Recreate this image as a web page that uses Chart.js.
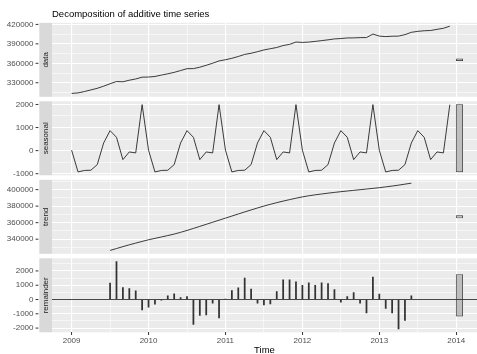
<!DOCTYPE html>
<html>
<head>
<meta charset="utf-8">
<script src="https://cdn.jsdelivr.net/npm/chart.js@4.4.1/dist/chart.umd.min.js"></script>
<style>
  html, body { margin: 0; padding: 0; background: #ffffff; overflow: hidden; }
  #wrap { position: relative; width: 477px; height: 354px; }
  #wrap canvas { position: absolute; left: 0; top: 0; }
</style>
</head>
<body>
<div id="wrap">
  <canvas id="c-data" width="477" height="354"></canvas>
  <canvas id="c-seasonal" width="477" height="354"></canvas>
  <canvas id="c-trend" width="477" height="354"></canvas>
  <canvas id="c-remainder" width="477" height="354"></canvas>
</div>
<script>
// monthly series, Jan 2009 - Dec 2013
const startYear = 2009;
const frequency = 12;

const observed = [
    313500, 314300, 316400, 318900, 321400, 324700, 328400, 331900, 331500, 333900, 335800, 338600,
    338800, 339700, 341800, 343800, 346000, 348800, 351700, 351800, 354000, 356900, 360100, 363700,
    365500, 367700, 370500, 373700, 375500, 377900, 380600, 382500, 384400, 387400, 389200, 392800,
    392200, 392700, 393800, 395000, 396200, 397600, 398200, 399100, 399200, 399600, 399700, 405100,
    402000, 401200, 401800, 402000, 404200, 407800, 409300, 410200, 410600, 412400, 414000, 417300
];

const seasonal = [
    20, -924, -860, -850, -606, 332, 866, 577, -390, -58, -100, 1991,
    20, -924, -860, -850, -606, 332, 866, 577, -390, -58, -100, 1991,
    20, -924, -860, -850, -606, 332, 866, 577, -390, -58, -100, 1991,
    20, -924, -860, -850, -606, 332, 866, 577, -390, -58, -100, 1991,
    20, -924, -860, -850, -606, 332, 866, 577, -390, -58, -100, 1991
];

const trend = [
    null, null, null, null, null, null, 326400, 328700, 331000, 333200, 335300, 337300,
    339300, 341000, 342700, 344400, 346200, 348300, 350600, 353000, 355500, 358000, 360500, 363000,
    365500, 368000, 370500, 373000, 375400, 377800, 380100, 382200, 384200, 386100, 387900, 389600,
    391200, 392500, 393700, 394700, 395700, 396600, 397500, 398300, 399100, 399900, 400700, 401500,
    402300, 403300, 404300, 405400, 406600, 407800, null, null, null, null, null, null
];

const remainder = [
    null, null, null, null, null, null, 1150, 2650, 840, 770, 610, -725,
    -540, -330, -40, 260, 400, 140, 210, -1750, -1120, -1080, -260, -1290,
    20, 630, 820, 1500, 725, -260, -375, -305, 560, 1380, 1380, 1240,
    1000, 1170, 1000, 1170, 1120, 700, -190, 210, 490, -260, -940, 1570,
    375, -630, -940, -2060, -1470, 260, null, null, null, null, null, null
];

const yearLabels = [2009, 2010, 2011, 2012, 2013, 2014];
const halfYearTicks = [2009.5, 2010.5, 2011.5, 2012.5, 2013.5];

const dataMajor = [330000, 360000, 390000, 420000];
const dataMinor = [315000, 345000, 375000, 405000];
const seasonalMajor = [-1000, 0, 1000, 2000];
const seasonalMinor = [-500, 500, 1500];
const trendMajor = [340000, 360000, 380000, 400000];
const trendMinor = [330000, 350000, 370000, 390000, 410000];
const remainderMajor = [-2000, -1000, 0, 1000, 2000];
const remainderMinor = [-1500, -500, 500, 1500, 2500];

const FONT = '"Liberation Sans", Arial, sans-serif';
const xMin = 2008.745;
const xMax = 2014.27;

const time = observed.map((v, i) => startYear + i / frequency);
const toPoints = (values) => values.map((v, i) => ({ x: time[i], y: v }));

function valueRange(values) {
    const v = values.filter(x => x !== null);
    return [Math.min(...v), Math.max(...v)];
}

// range bars: same height in every panel (the smallest range), centred on each panel
const ranges = [observed, seasonal, trend, remainder].map(valueRange);
const barHeight = Math.min(...ranges.map(r => r[1] - r[0]));
const barX = time[time.length - 1] + 1.5 / frequency;
const rangeBars = ranges.map(r => {
    const mid = (r[0] + r[1]) / 2;
    return [mid - barHeight / 2, mid + barHeight / 2];
});

function limits(r, bar) {
    const lo = Math.min(r[0], bar[0]);
    const hi = Math.max(r[1], bar[1]);
    const pad = (hi - lo) * 0.05;
    return [lo - pad, hi + pad];
}

const stripPlugin = {
    id: 'strip',
    beforeDraw(chart) {
        const { ctx, chartArea } = chart;
        ctx.save();
        ctx.fillStyle = '#EBEBEB';
        ctx.fillRect(chartArea.left, chartArea.top, chartArea.right - chartArea.left, chartArea.bottom - chartArea.top);
        ctx.restore();
    },
    afterDraw(chart, args, opts) {
        const { ctx, chartArea } = chart;
        const ys = chart.scales.y;
        ctx.save();
        ctx.fillStyle = '#D9D9D9';
        ctx.fillRect(39.3, chartArea.top, chartArea.left - 39.3, chartArea.bottom - chartArea.top);
        // y tick marks sit left of the strip, as in ggplot
        ctx.strokeStyle = '#333333';
        ctx.lineWidth = 1;
        opts.major.forEach(v => {
            const y = ys.getPixelForValue(v);
            ctx.beginPath();
            ctx.moveTo(35.6, y);
            ctx.lineTo(38.4, y);
            ctx.stroke();
        });
        ctx.translate(45.8, (chartArea.top + chartArea.bottom) / 2);
        ctx.rotate(-Math.PI / 2);
        ctx.fillStyle = '#1A1A1A';
        ctx.font = '8px ' + FONT;
        ctx.textAlign = 'center';
        ctx.textBaseline = 'middle';
        ctx.fillText(opts.label, 0, 0);
        ctx.restore();
    }
};

function yScale(lim, major, minor) {
    const all = major.concat(minor).sort((a, b) => a - b);
    return {
        type: 'linear',
        min: lim[0],
        max: lim[1],
        afterBuildTicks: s => { s.ticks = all.filter(v => v >= lim[0] && v <= lim[1]).map(v => ({ value: v })); },
        afterFit: s => { s.width = 52; s.paddingTop = 0; s.paddingBottom = 0; },
        ticks: {
            autoSkip: false,
            padding: 18.5,
            color: '#4D4D4D',
            font: { family: FONT, size: 8 },
            callback: v => major.includes(v) ? String(v) : ''
        },
        grid: {
            color: '#FFFFFF',
            lineWidth: ctx => major.includes(ctx.tick.value) ? 1.1 : 0.55,
            drawTicks: false
        },
        border: { display: false }
    };
}

function xScale(showAxis) {
    const all = yearLabels.concat(halfYearTicks).sort((a, b) => a - b);
    return {
        type: 'linear',
        min: xMin,
        max: xMax,
        offset: false,
        afterBuildTicks: s => { s.ticks = all.map(v => ({ value: v })); },
        afterFit: s => { s.height = showAxis ? 21.7 : 0; s.paddingLeft = 0; s.paddingRight = 0; },
        ticks: {
            display: showAxis,
            autoSkip: false,
            maxRotation: 0,
            padding: 1,
            color: '#4D4D4D',
            font: { family: FONT, size: 8 },
            callback: v => yearLabels.includes(v) ? String(v) : ''
        },
        grid: {
            offset: false,
            color: '#FFFFFF',
            lineWidth: ctx => yearLabels.includes(ctx.tick.value) ? 1.1 : 0.55,
            drawTicks: showAxis,
            tickLength: 2.7,
            tickWidth: 1,
            tickColor: ctx => yearLabels.includes(ctx.tick.value) ? '#333333' : 'rgba(0,0,0,0)'
        },
        border: { display: false },
        title: {
            display: showAxis,
            text: 'Time',
            color: '#000000',
            padding: 0,
            font: { family: FONT, size: 9.5, lineHeight: 0.8 }
        }
    };
}

function rangeBarDataset(bar) {
    return {
        type: 'bar',
        data: [{ x: barX, y: bar }],
        grouped: false,
        barThickness: 6.5,
        backgroundColor: '#BEBEBE',
        borderColor: '#333333',
        borderWidth: 0.7,
        borderSkipped: false
    };
}

function lineDataset(values) {
    return {
        type: 'line',
        data: toPoints(values),
        borderColor: '#262626',
        borderWidth: 0.9,
        pointRadius: 0,
        spanGaps: false
    };
}

const panels = [
    { id: 'c-data', label: 'data', values: observed, major: dataMajor, minor: dataMinor, top: 22.8, bottom: 96.8 },
    { id: 'c-seasonal', label: 'seasonal', values: seasonal, major: seasonalMajor, minor: seasonalMinor, top: 101.3, bottom: 175.3 },
    { id: 'c-trend', label: 'trend', values: trend, major: trendMajor, minor: trendMinor, top: 179.8, bottom: 253.8 },
    { id: 'c-remainder', label: 'remainder', values: remainder, major: remainderMajor, minor: remainderMinor, top: 258.3, bottom: 332.3 }
];

panels.forEach((p, i) => {
    const isFirst = i === 0;
    const isLast = i === panels.length - 1;
    const lim = limits(ranges[i], rangeBars[i]);

    let datasets;
    if (p.label === 'remainder') {
        datasets = [
            {
                type: 'line',
                data: [{ x: xMin, y: 0 }, { x: xMax, y: 0 }],
                borderColor: '#333333',
                borderWidth: 0.9,
                pointRadius: 0
            },
            {
                type: 'bar',
                data: toPoints(remainder),
                grouped: false,
                barThickness: 1.1,
                backgroundColor: '#333333',
                borderWidth: 0
            },
            rangeBarDataset(rangeBars[i])
        ];
    } else {
        datasets = [lineDataset(p.values), rangeBarDataset(rangeBars[i])];
    }

    new Chart(document.getElementById(p.id), {
        type: 'line',
        data: { datasets: datasets },
        plugins: [stripPlugin],
        options: {
            responsive: false,
            animation: false,
            devicePixelRatio: 1,
            events: [],
            layout: {
                padding: {
                    left: 0,
                    right: 0,
                    top: isFirst ? 0 : p.top,
                    bottom: isLast ? 0 : 354 - p.bottom
                }
            },
            scales: {
                x: xScale(isLast),
                y: yScale(lim, p.major, p.minor)
            },
            plugins: {
                legend: { display: false },
                tooltip: { enabled: false },
                strip: { label: p.label, major: p.major },
                title: {
                    display: isFirst,
                    text: 'Decomposition of additive time series',
                    align: 'start',
                    fullSize: false,
                    color: '#000000',
                    font: { family: FONT, size: 9.5, weight: 'normal', lineHeight: 1.2 },
                    padding: { top: 8.6, bottom: 2.8 }
                }
            }
        }
    });
});
</script>
</body>
</html>
